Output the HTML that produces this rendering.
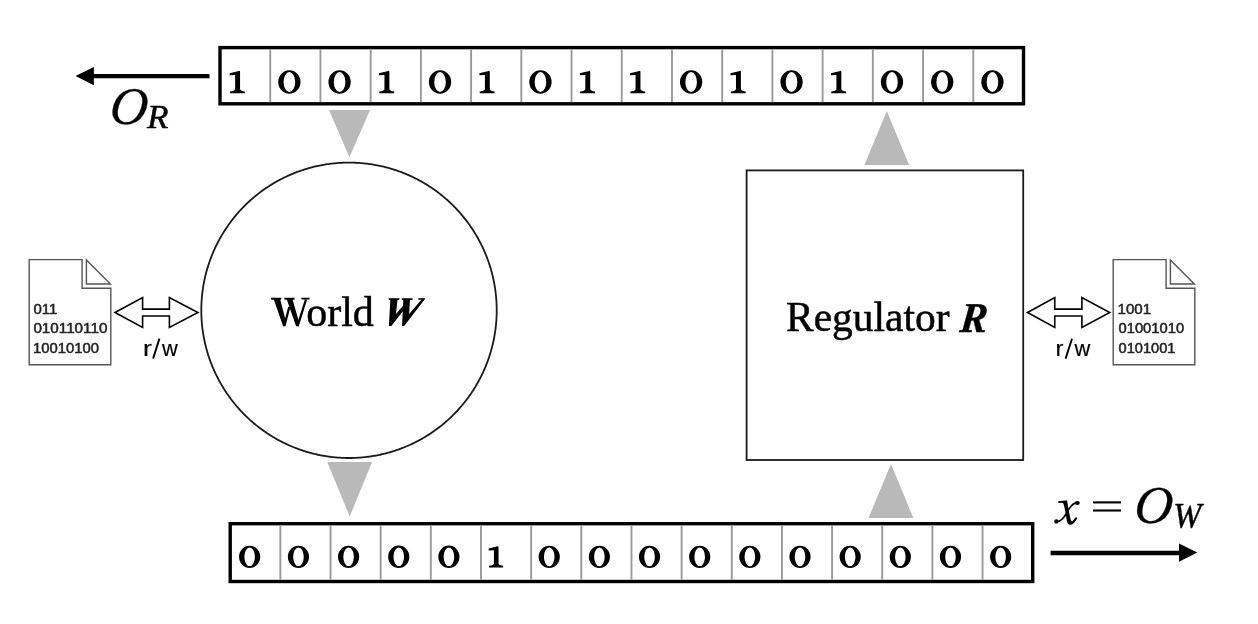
<!DOCTYPE html>
<html><head><meta charset="utf-8"><style>
html,body{margin:0;padding:0;background:#fff;}
body{width:1258px;height:624px;overflow:hidden;position:relative;}
svg{position:absolute;left:0;top:0;will-change:transform;}
.t{position:absolute;white-space:nowrap;line-height:1;}
.serif{font-family:"Liberation Serif",serif;}
.sans{font-family:"Liberation Sans",sans-serif;}
</style></head><body>
<svg width="1258" height="624" viewBox="0 0 1258 624">
<rect x="220.0" y="47.6" width="803.50" height="56.20" fill="#fff" stroke="#000" stroke-width="3.4"/>
<line x1="270.22" y1="49.30" x2="270.22" y2="102.10" stroke="#999" stroke-width="1.9"/>
<line x1="320.44" y1="49.30" x2="320.44" y2="102.10" stroke="#999" stroke-width="1.9"/>
<line x1="370.66" y1="49.30" x2="370.66" y2="102.10" stroke="#999" stroke-width="1.9"/>
<line x1="420.88" y1="49.30" x2="420.88" y2="102.10" stroke="#999" stroke-width="1.9"/>
<line x1="471.09" y1="49.30" x2="471.09" y2="102.10" stroke="#999" stroke-width="1.9"/>
<line x1="521.31" y1="49.30" x2="521.31" y2="102.10" stroke="#999" stroke-width="1.9"/>
<line x1="571.53" y1="49.30" x2="571.53" y2="102.10" stroke="#999" stroke-width="1.9"/>
<line x1="621.75" y1="49.30" x2="621.75" y2="102.10" stroke="#999" stroke-width="1.9"/>
<line x1="671.97" y1="49.30" x2="671.97" y2="102.10" stroke="#999" stroke-width="1.9"/>
<line x1="722.19" y1="49.30" x2="722.19" y2="102.10" stroke="#999" stroke-width="1.9"/>
<line x1="772.41" y1="49.30" x2="772.41" y2="102.10" stroke="#999" stroke-width="1.9"/>
<line x1="822.62" y1="49.30" x2="822.62" y2="102.10" stroke="#999" stroke-width="1.9"/>
<line x1="872.84" y1="49.30" x2="872.84" y2="102.10" stroke="#999" stroke-width="1.9"/>
<line x1="923.06" y1="49.30" x2="923.06" y2="102.10" stroke="#999" stroke-width="1.9"/>
<line x1="973.28" y1="49.30" x2="973.28" y2="102.10" stroke="#999" stroke-width="1.9"/>
<path transform="translate(229.65 70.70) scale(1.0)" d="M0.3 22.6 H15.2 V20.7 Q11.1 20.5 10.4 18.6 V1.1 Q10.3 0.0 9.3 0.2 L0 2.5 V4.6 L5.5 4.4 V18.6 Q4.8 20.5 0.3 20.7 Z"/>
<path fill-rule="evenodd" d="M278.22 82.00 a11.15 11.75 0 1 0 22.30 0 a11.15 11.75 0 1 0 -22.30 0 Z M283.57 82.00 a5.80 10.00 0 1 0 11.60 0 a5.80 10.00 0 1 0 -11.60 0 Z"/>
<path fill-rule="evenodd" d="M328.44 82.00 a11.15 11.75 0 1 0 22.30 0 a11.15 11.75 0 1 0 -22.30 0 Z M333.79 82.00 a5.80 10.00 0 1 0 11.60 0 a5.80 10.00 0 1 0 -11.60 0 Z"/>
<path transform="translate(378.96 70.70) scale(1.0)" d="M0.3 22.6 H15.2 V20.7 Q11.1 20.5 10.4 18.6 V1.1 Q10.3 0.0 9.3 0.2 L0 2.5 V4.6 L5.5 4.4 V18.6 Q4.8 20.5 0.3 20.7 Z"/>
<path fill-rule="evenodd" d="M428.88 82.00 a11.15 11.75 0 1 0 22.30 0 a11.15 11.75 0 1 0 -22.30 0 Z M434.22 82.00 a5.80 10.00 0 1 0 11.60 0 a5.80 10.00 0 1 0 -11.60 0 Z"/>
<path transform="translate(479.39 70.70) scale(1.0)" d="M0.3 22.6 H15.2 V20.7 Q11.1 20.5 10.4 18.6 V1.1 Q10.3 0.0 9.3 0.2 L0 2.5 V4.6 L5.5 4.4 V18.6 Q4.8 20.5 0.3 20.7 Z"/>
<path fill-rule="evenodd" d="M529.31 82.00 a11.15 11.75 0 1 0 22.30 0 a11.15 11.75 0 1 0 -22.30 0 Z M534.66 82.00 a5.80 10.00 0 1 0 11.60 0 a5.80 10.00 0 1 0 -11.60 0 Z"/>
<path transform="translate(579.83 70.70) scale(1.0)" d="M0.3 22.6 H15.2 V20.7 Q11.1 20.5 10.4 18.6 V1.1 Q10.3 0.0 9.3 0.2 L0 2.5 V4.6 L5.5 4.4 V18.6 Q4.8 20.5 0.3 20.7 Z"/>
<path transform="translate(630.05 70.70) scale(1.0)" d="M0.3 22.6 H15.2 V20.7 Q11.1 20.5 10.4 18.6 V1.1 Q10.3 0.0 9.3 0.2 L0 2.5 V4.6 L5.5 4.4 V18.6 Q4.8 20.5 0.3 20.7 Z"/>
<path fill-rule="evenodd" d="M679.97 82.00 a11.15 11.75 0 1 0 22.30 0 a11.15 11.75 0 1 0 -22.30 0 Z M685.32 82.00 a5.80 10.00 0 1 0 11.60 0 a5.80 10.00 0 1 0 -11.60 0 Z"/>
<path transform="translate(730.49 70.70) scale(1.0)" d="M0.3 22.6 H15.2 V20.7 Q11.1 20.5 10.4 18.6 V1.1 Q10.3 0.0 9.3 0.2 L0 2.5 V4.6 L5.5 4.4 V18.6 Q4.8 20.5 0.3 20.7 Z"/>
<path fill-rule="evenodd" d="M780.41 82.00 a11.15 11.75 0 1 0 22.30 0 a11.15 11.75 0 1 0 -22.30 0 Z M785.76 82.00 a5.80 10.00 0 1 0 11.60 0 a5.80 10.00 0 1 0 -11.60 0 Z"/>
<path transform="translate(830.92 70.70) scale(1.0)" d="M0.3 22.6 H15.2 V20.7 Q11.1 20.5 10.4 18.6 V1.1 Q10.3 0.0 9.3 0.2 L0 2.5 V4.6 L5.5 4.4 V18.6 Q4.8 20.5 0.3 20.7 Z"/>
<path fill-rule="evenodd" d="M880.84 82.00 a11.15 11.75 0 1 0 22.30 0 a11.15 11.75 0 1 0 -22.30 0 Z M886.19 82.00 a5.80 10.00 0 1 0 11.60 0 a5.80 10.00 0 1 0 -11.60 0 Z"/>
<path fill-rule="evenodd" d="M931.06 82.00 a11.15 11.75 0 1 0 22.30 0 a11.15 11.75 0 1 0 -22.30 0 Z M936.41 82.00 a5.80 10.00 0 1 0 11.60 0 a5.80 10.00 0 1 0 -11.60 0 Z"/>
<path fill-rule="evenodd" d="M981.28 82.00 a11.15 11.75 0 1 0 22.30 0 a11.15 11.75 0 1 0 -22.30 0 Z M986.63 82.00 a5.80 10.00 0 1 0 11.60 0 a5.80 10.00 0 1 0 -11.60 0 Z"/>
<rect x="230.2" y="523.7" width="802.50" height="57.80" fill="#fff" stroke="#000" stroke-width="3.4"/>
<line x1="280.36" y1="525.40" x2="280.36" y2="579.80" stroke="#999" stroke-width="1.9"/>
<line x1="330.51" y1="525.40" x2="330.51" y2="579.80" stroke="#999" stroke-width="1.9"/>
<line x1="380.67" y1="525.40" x2="380.67" y2="579.80" stroke="#999" stroke-width="1.9"/>
<line x1="430.82" y1="525.40" x2="430.82" y2="579.80" stroke="#999" stroke-width="1.9"/>
<line x1="480.98" y1="525.40" x2="480.98" y2="579.80" stroke="#999" stroke-width="1.9"/>
<line x1="531.14" y1="525.40" x2="531.14" y2="579.80" stroke="#999" stroke-width="1.9"/>
<line x1="581.29" y1="525.40" x2="581.29" y2="579.80" stroke="#999" stroke-width="1.9"/>
<line x1="631.45" y1="525.40" x2="631.45" y2="579.80" stroke="#999" stroke-width="1.9"/>
<line x1="681.61" y1="525.40" x2="681.61" y2="579.80" stroke="#999" stroke-width="1.9"/>
<line x1="731.76" y1="525.40" x2="731.76" y2="579.80" stroke="#999" stroke-width="1.9"/>
<line x1="781.92" y1="525.40" x2="781.92" y2="579.80" stroke="#999" stroke-width="1.9"/>
<line x1="832.08" y1="525.40" x2="832.08" y2="579.80" stroke="#999" stroke-width="1.9"/>
<line x1="882.23" y1="525.40" x2="882.23" y2="579.80" stroke="#999" stroke-width="1.9"/>
<line x1="932.39" y1="525.40" x2="932.39" y2="579.80" stroke="#999" stroke-width="1.9"/>
<line x1="982.54" y1="525.40" x2="982.54" y2="579.80" stroke="#999" stroke-width="1.9"/>
<path fill-rule="evenodd" d="M239.05 556.80 a10.59 11.16 0 1 0 21.18 0 a10.59 11.16 0 1 0 -21.18 0 Z M244.34 556.80 a5.30 9.30 0 1 0 10.60 0 a5.30 9.30 0 1 0 -10.60 0 Z"/>
<path fill-rule="evenodd" d="M287.86 556.80 a10.59 11.16 0 1 0 21.18 0 a10.59 11.16 0 1 0 -21.18 0 Z M293.15 556.80 a5.30 9.30 0 1 0 10.60 0 a5.30 9.30 0 1 0 -10.60 0 Z"/>
<path fill-rule="evenodd" d="M338.01 556.80 a10.59 11.16 0 1 0 21.18 0 a10.59 11.16 0 1 0 -21.18 0 Z M343.30 556.80 a5.30 9.30 0 1 0 10.60 0 a5.30 9.30 0 1 0 -10.60 0 Z"/>
<path fill-rule="evenodd" d="M388.17 556.80 a10.59 11.16 0 1 0 21.18 0 a10.59 11.16 0 1 0 -21.18 0 Z M393.46 556.80 a5.30 9.30 0 1 0 10.60 0 a5.30 9.30 0 1 0 -10.60 0 Z"/>
<path fill-rule="evenodd" d="M438.32 556.80 a10.59 11.16 0 1 0 21.18 0 a10.59 11.16 0 1 0 -21.18 0 Z M443.62 556.80 a5.30 9.30 0 1 0 10.60 0 a5.30 9.30 0 1 0 -10.60 0 Z"/>
<path transform="translate(488.68 546.06) scale(0.95)" d="M0.3 22.6 H15.2 V20.7 Q11.1 20.5 10.4 18.6 V1.1 Q10.3 0.0 9.3 0.2 L0 2.5 V4.6 L5.5 4.4 V18.6 Q4.8 20.5 0.3 20.7 Z"/>
<path fill-rule="evenodd" d="M538.64 556.80 a10.59 11.16 0 1 0 21.18 0 a10.59 11.16 0 1 0 -21.18 0 Z M543.93 556.80 a5.30 9.30 0 1 0 10.60 0 a5.30 9.30 0 1 0 -10.60 0 Z"/>
<path fill-rule="evenodd" d="M588.79 556.80 a10.59 11.16 0 1 0 21.18 0 a10.59 11.16 0 1 0 -21.18 0 Z M594.09 556.80 a5.30 9.30 0 1 0 10.60 0 a5.30 9.30 0 1 0 -10.60 0 Z"/>
<path fill-rule="evenodd" d="M638.95 556.80 a10.59 11.16 0 1 0 21.18 0 a10.59 11.16 0 1 0 -21.18 0 Z M644.24 556.80 a5.30 9.30 0 1 0 10.60 0 a5.30 9.30 0 1 0 -10.60 0 Z"/>
<path fill-rule="evenodd" d="M689.11 556.80 a10.59 11.16 0 1 0 21.18 0 a10.59 11.16 0 1 0 -21.18 0 Z M694.40 556.80 a5.30 9.30 0 1 0 10.60 0 a5.30 9.30 0 1 0 -10.60 0 Z"/>
<path fill-rule="evenodd" d="M739.26 556.80 a10.59 11.16 0 1 0 21.18 0 a10.59 11.16 0 1 0 -21.18 0 Z M744.56 556.80 a5.30 9.30 0 1 0 10.60 0 a5.30 9.30 0 1 0 -10.60 0 Z"/>
<path fill-rule="evenodd" d="M789.42 556.80 a10.59 11.16 0 1 0 21.18 0 a10.59 11.16 0 1 0 -21.18 0 Z M794.71 556.80 a5.30 9.30 0 1 0 10.60 0 a5.30 9.30 0 1 0 -10.60 0 Z"/>
<path fill-rule="evenodd" d="M839.58 556.80 a10.59 11.16 0 1 0 21.18 0 a10.59 11.16 0 1 0 -21.18 0 Z M844.87 556.80 a5.30 9.30 0 1 0 10.60 0 a5.30 9.30 0 1 0 -10.60 0 Z"/>
<path fill-rule="evenodd" d="M889.73 556.80 a10.59 11.16 0 1 0 21.18 0 a10.59 11.16 0 1 0 -21.18 0 Z M895.02 556.80 a5.30 9.30 0 1 0 10.60 0 a5.30 9.30 0 1 0 -10.60 0 Z"/>
<path fill-rule="evenodd" d="M939.89 556.80 a10.59 11.16 0 1 0 21.18 0 a10.59 11.16 0 1 0 -21.18 0 Z M945.18 556.80 a5.30 9.30 0 1 0 10.60 0 a5.30 9.30 0 1 0 -10.60 0 Z"/>
<path fill-rule="evenodd" d="M990.04 556.80 a10.59 11.16 0 1 0 21.18 0 a10.59 11.16 0 1 0 -21.18 0 Z M995.34 556.80 a5.30 9.30 0 1 0 10.60 0 a5.30 9.30 0 1 0 -10.60 0 Z"/>
<polygon fill="#b9b9b9" points="329,110.1 370.1,110.1 349.4,157.2"/>
<polygon fill="#b9b9b9" points="327.2,462 372.1,462 349.7,516.5"/>
<polygon fill="#b9b9b9" points="886.8,110.9 909.2,164.9 864.4,164.9"/>
<polygon fill="#b9b9b9" points="891,464 913.4,518.1 868.5,518.1"/>
<polygon points="496.70,310.30 496.69,311.59 496.68,312.88 496.65,314.17 496.61,315.45 496.56,316.74 496.50,318.03 496.42,319.32 496.34,320.60 496.24,321.89 496.14,323.17 496.02,324.46 495.89,325.74 495.75,327.02 495.60,328.30 495.44,329.58 495.26,330.86 495.08,332.13 494.88,333.41 494.67,334.68 494.46,335.95 494.23,337.22 493.99,338.48 493.73,339.75 493.47,341.01 493.20,342.27 492.91,343.53 492.62,344.78 492.31,346.03 492.00,347.28 491.67,348.53 491.33,349.77 490.98,351.01 490.62,352.25 490.25,353.48 489.86,354.71 489.47,355.94 489.07,357.17 488.65,358.39 488.23,359.60 487.79,360.82 487.35,362.03 486.89,363.23 486.42,364.43 485.95,365.63 485.46,366.82 484.96,368.01 484.45,369.20 483.93,370.38 483.40,371.55 482.86,372.72 482.31,373.89 481.75,375.05 481.18,376.20 480.60,377.35 480.01,378.50 479.41,379.64 478.80,380.78 478.18,381.91 477.55,383.03 476.91,384.15 476.26,385.26 475.60,386.37 474.93,387.47 474.26,388.57 473.57,389.66 472.87,390.74 472.16,391.82 471.45,392.89 470.72,393.96 469.99,395.02 469.24,396.07 468.49,397.12 467.73,398.16 466.96,399.19 466.18,400.21 465.39,401.23 464.59,402.25 463.78,403.25 462.97,404.25 462.14,405.24 461.31,406.22 460.47,407.20 459.62,408.17 458.76,409.13 457.90,410.08 457.02,411.03 456.14,411.97 455.25,412.90 454.35,413.82 453.44,414.74 452.52,415.65 451.60,416.55 450.67,417.44 449.73,418.32 448.78,419.20 447.83,420.06 446.87,420.92 445.90,421.77 444.92,422.61 443.94,423.44 442.95,424.27 441.95,425.08 440.95,425.89 439.93,426.69 438.91,427.48 437.89,428.26 436.86,429.03 435.82,429.79 434.77,430.54 433.72,431.29 432.66,432.02 431.59,432.75 430.52,433.46 429.44,434.17 428.36,434.87 427.27,435.56 426.17,436.23 425.07,436.90 423.96,437.56 422.85,438.21 421.73,438.85 420.61,439.48 419.48,440.10 418.34,440.71 417.20,441.31 416.05,441.90 414.90,442.48 413.75,443.05 412.59,443.61 411.42,444.16 410.25,444.70 409.08,445.23 407.90,445.75 406.71,446.26 405.52,446.76 404.33,447.25 403.13,447.72 401.93,448.19 400.73,448.65 399.52,449.09 398.30,449.53 397.09,449.95 395.87,450.37 394.64,450.77 393.41,451.16 392.18,451.55 390.95,451.92 389.71,452.28 388.47,452.63 387.23,452.97 385.98,453.30 384.73,453.61 383.48,453.92 382.23,454.21 380.97,454.50 379.71,454.77 378.45,455.03 377.18,455.29 375.92,455.53 374.65,455.76 373.38,455.97 372.11,456.18 370.83,456.38 369.56,456.56 368.28,456.74 367.00,456.90 365.72,457.05 364.44,457.19 363.16,457.32 361.87,457.44 360.59,457.54 359.30,457.64 358.02,457.72 356.73,457.80 355.44,457.86 354.15,457.91 352.87,457.95 351.58,457.98 350.29,457.99 349.00,458.00 347.71,457.99 346.42,457.98 345.13,457.95 343.85,457.91 342.56,457.86 341.27,457.80 339.98,457.72 338.70,457.64 337.41,457.54 336.13,457.44 334.84,457.32 333.56,457.19 332.28,457.05 331.00,456.90 329.72,456.74 328.44,456.56 327.17,456.38 325.89,456.18 324.62,455.97 323.35,455.76 322.08,455.53 320.82,455.29 319.55,455.03 318.29,454.77 317.03,454.50 315.77,454.21 314.52,453.92 313.27,453.61 312.02,453.30 310.77,452.97 309.53,452.63 308.29,452.28 307.05,451.92 305.82,451.55 304.59,451.16 303.36,450.77 302.13,450.37 300.91,449.95 299.70,449.53 298.48,449.09 297.27,448.65 296.07,448.19 294.87,447.72 293.67,447.25 292.48,446.76 291.29,446.26 290.10,445.75 288.92,445.23 287.75,444.70 286.58,444.16 285.41,443.61 284.25,443.05 283.10,442.48 281.95,441.90 280.80,441.31 279.66,440.71 278.52,440.10 277.39,439.48 276.27,438.85 275.15,438.21 274.04,437.56 272.93,436.90 271.83,436.23 270.73,435.56 269.64,434.87 268.56,434.17 267.48,433.46 266.41,432.75 265.34,432.02 264.28,431.29 263.23,430.54 262.18,429.79 261.14,429.03 260.11,428.26 259.09,427.48 258.07,426.69 257.05,425.89 256.05,425.08 255.05,424.27 254.06,423.44 253.08,422.61 252.10,421.77 251.13,420.92 250.17,420.06 249.22,419.20 248.27,418.32 247.33,417.44 246.40,416.55 245.48,415.65 244.56,414.74 243.65,413.82 242.75,412.90 241.86,411.97 240.98,411.03 240.10,410.08 239.24,409.13 238.38,408.17 237.53,407.20 236.69,406.22 235.86,405.24 235.03,404.25 234.22,403.25 233.41,402.25 232.61,401.23 231.82,400.21 231.04,399.19 230.27,398.16 229.51,397.12 228.76,396.07 228.01,395.02 227.28,393.96 226.55,392.89 225.84,391.82 225.13,390.74 224.43,389.66 223.74,388.57 223.07,387.47 222.40,386.37 221.74,385.26 221.09,384.15 220.45,383.03 219.82,381.91 219.20,380.78 218.59,379.64 217.99,378.50 217.40,377.35 216.82,376.20 216.25,375.05 215.69,373.89 215.14,372.72 214.60,371.55 214.07,370.38 213.55,369.20 213.04,368.01 212.54,366.82 212.05,365.63 211.58,364.43 211.11,363.23 210.65,362.03 210.21,360.82 209.77,359.60 209.35,358.39 208.93,357.17 208.53,355.94 208.14,354.71 207.75,353.48 207.38,352.25 207.02,351.01 206.67,349.77 206.33,348.53 206.00,347.28 205.69,346.03 205.38,344.78 205.09,343.53 204.80,342.27 204.53,341.01 204.27,339.75 204.01,338.48 203.77,337.22 203.54,335.95 203.33,334.68 203.12,333.41 202.92,332.13 202.74,330.86 202.56,329.58 202.40,328.30 202.25,327.02 202.11,325.74 201.98,324.46 201.86,323.17 201.76,321.89 201.66,320.60 201.58,319.32 201.50,318.03 201.44,316.74 201.39,315.45 201.35,314.17 201.32,312.88 201.31,311.59 201.30,310.30 201.31,309.01 201.32,307.72 201.35,306.43 201.39,305.15 201.44,303.86 201.50,302.57 201.58,301.28 201.66,300.00 201.76,298.71 201.86,297.43 201.98,296.14 202.11,294.86 202.25,293.58 202.40,292.30 202.56,291.02 202.74,289.74 202.92,288.47 203.12,287.19 203.33,285.92 203.54,284.65 203.77,283.38 204.01,282.12 204.27,280.85 204.53,279.59 204.80,278.33 205.09,277.07 205.38,275.82 205.69,274.57 206.00,273.32 206.33,272.07 206.67,270.83 207.02,269.59 207.38,268.35 207.75,267.12 208.14,265.89 208.53,264.66 208.93,263.43 209.35,262.21 209.77,261.00 210.21,259.78 210.65,258.57 211.11,257.37 211.58,256.17 212.05,254.97 212.54,253.78 213.04,252.59 213.55,251.40 214.07,250.22 214.60,249.05 215.14,247.88 215.69,246.71 216.25,245.55 216.82,244.40 217.40,243.25 217.99,242.10 218.59,240.96 219.20,239.82 219.82,238.69 220.45,237.57 221.09,236.45 221.74,235.34 222.40,234.23 223.07,233.13 223.74,232.03 224.43,230.94 225.13,229.86 225.84,228.78 226.55,227.71 227.28,226.64 228.01,225.58 228.76,224.53 229.51,223.48 230.27,222.44 231.04,221.41 231.82,220.39 232.61,219.37 233.41,218.35 234.22,217.35 235.03,216.35 235.86,215.36 236.69,214.38 237.53,213.40 238.38,212.43 239.24,211.47 240.10,210.52 240.98,209.57 241.86,208.63 242.75,207.70 243.65,206.78 244.56,205.86 245.48,204.95 246.40,204.05 247.33,203.16 248.27,202.28 249.22,201.40 250.17,200.54 251.13,199.68 252.10,198.83 253.08,197.99 254.06,197.16 255.05,196.33 256.05,195.52 257.05,194.71 258.07,193.91 259.09,193.12 260.11,192.34 261.14,191.57 262.18,190.81 263.23,190.06 264.28,189.31 265.34,188.58 266.41,187.85 267.48,187.14 268.56,186.43 269.64,185.73 270.73,185.04 271.83,184.37 272.93,183.70 274.04,183.04 275.15,182.39 276.27,181.75 277.39,181.12 278.52,180.50 279.66,179.89 280.80,179.29 281.95,178.70 283.10,178.12 284.25,177.55 285.41,176.99 286.58,176.44 287.75,175.90 288.92,175.37 290.10,174.85 291.29,174.34 292.48,173.84 293.67,173.35 294.87,172.88 296.07,172.41 297.27,171.95 298.48,171.51 299.70,171.07 300.91,170.65 302.13,170.23 303.36,169.83 304.59,169.44 305.82,169.05 307.05,168.68 308.29,168.32 309.53,167.97 310.77,167.63 312.02,167.30 313.27,166.99 314.52,166.68 315.77,166.39 317.03,166.10 318.29,165.83 319.55,165.57 320.82,165.31 322.08,165.07 323.35,164.84 324.62,164.63 325.89,164.42 327.17,164.22 328.44,164.04 329.72,163.86 331.00,163.70 332.28,163.55 333.56,163.41 334.84,163.28 336.13,163.16 337.41,163.06 338.70,162.96 339.98,162.88 341.27,162.80 342.56,162.74 343.85,162.69 345.13,162.65 346.42,162.62 347.71,162.61 349.00,162.60 350.29,162.61 351.58,162.62 352.87,162.65 354.15,162.69 355.44,162.74 356.73,162.80 358.02,162.88 359.30,162.96 360.59,163.06 361.87,163.16 363.16,163.28 364.44,163.41 365.72,163.55 367.00,163.70 368.28,163.86 369.56,164.04 370.83,164.22 372.11,164.42 373.38,164.63 374.65,164.84 375.92,165.07 377.18,165.31 378.45,165.57 379.71,165.83 380.97,166.10 382.23,166.39 383.48,166.68 384.73,166.99 385.98,167.30 387.23,167.63 388.47,167.97 389.71,168.32 390.95,168.68 392.18,169.05 393.41,169.44 394.64,169.83 395.87,170.23 397.09,170.65 398.30,171.07 399.52,171.51 400.73,171.95 401.93,172.41 403.13,172.88 404.33,173.35 405.52,173.84 406.71,174.34 407.90,174.85 409.08,175.37 410.25,175.90 411.42,176.44 412.59,176.99 413.75,177.55 414.90,178.12 416.05,178.70 417.20,179.29 418.34,179.89 419.48,180.50 420.61,181.12 421.73,181.75 422.85,182.39 423.96,183.04 425.07,183.70 426.17,184.37 427.27,185.04 428.36,185.73 429.44,186.43 430.52,187.14 431.59,187.85 432.66,188.58 433.72,189.31 434.77,190.06 435.82,190.81 436.86,191.57 437.89,192.34 438.91,193.12 439.93,193.91 440.95,194.71 441.95,195.52 442.95,196.33 443.94,197.16 444.92,197.99 445.90,198.83 446.87,199.68 447.83,200.54 448.78,201.40 449.73,202.28 450.67,203.16 451.60,204.05 452.52,204.95 453.44,205.86 454.35,206.78 455.25,207.70 456.14,208.63 457.02,209.57 457.90,210.52 458.76,211.47 459.62,212.43 460.47,213.40 461.31,214.38 462.14,215.36 462.97,216.35 463.78,217.35 464.59,218.35 465.39,219.37 466.18,220.39 466.96,221.41 467.73,222.44 468.49,223.48 469.24,224.53 469.99,225.58 470.72,226.64 471.45,227.71 472.16,228.78 472.87,229.86 473.57,230.94 474.26,232.03 474.93,233.13 475.60,234.23 476.26,235.34 476.91,236.45 477.55,237.57 478.18,238.69 478.80,239.82 479.41,240.96 480.01,242.10 480.60,243.25 481.18,244.40 481.75,245.55 482.31,246.71 482.86,247.88 483.40,249.05 483.93,250.22 484.45,251.40 484.96,252.59 485.46,253.78 485.95,254.97 486.42,256.17 486.89,257.37 487.35,258.57 487.79,259.78 488.23,261.00 488.65,262.21 489.07,263.43 489.47,264.66 489.86,265.89 490.25,267.12 490.62,268.35 490.98,269.59 491.33,270.83 491.67,272.07 492.00,273.32 492.31,274.57 492.62,275.82 492.91,277.07 493.20,278.33 493.47,279.59 493.73,280.85 493.99,282.12 494.23,283.38 494.46,284.65 494.67,285.92 494.88,287.19 495.08,288.47 495.26,289.74 495.44,291.02 495.60,292.30 495.75,293.58 495.89,294.86 496.02,296.14 496.14,297.43 496.24,298.71 496.34,300.00 496.42,301.28 496.50,302.57 496.56,303.86 496.61,305.15 496.65,306.43 496.68,307.72 496.69,309.01" fill="none" stroke="#1a1a1a" stroke-width="1.8"/>
<rect x="746.6" y="170.4" width="276.6" height="289.6" fill="none" stroke="#1a1a1a" stroke-width="1.8"/>
<line x1="92" y1="76.1" x2="209.5" y2="76.1" stroke="#000" stroke-width="4.2"/>
<polygon points="75.5,76.1 93.9,66.9 93.9,85.3" fill="#000"/>
<line x1="1050.6" y1="553" x2="1181" y2="553" stroke="#000" stroke-width="4.5"/>
<polygon points="1179,543.5 1197.3,552.6 1179,561.8" fill="#000"/>
<polygon fill="#fff" stroke="#000" stroke-width="1.6" stroke-linejoin="miter" points="115,312.5 142.6,297.5 142.6,309.1 169.4,309.1 169.4,297.5 197.9,312.5 169.4,327.5 169.4,316 142.6,316 142.6,327.5"/>
<polygon fill="#fff" stroke="#000" stroke-width="1.6" stroke-linejoin="miter" points="1027.5,312.5 1054.75,297.5 1054.75,309.1 1081.9,309.1 1081.9,297.5 1109.75,312.5 1081.9,327.5 1081.9,316 1054.75,316 1054.75,327.5"/>
<path fill="#fff" stroke="#555" stroke-width="1.4" d="M29.2 259.6 H82.1 V288.3 H110.8 V364.8 H29.2 Z"/><path fill="#fff" stroke="#555" stroke-width="1.4" d="M86.4 260 V284 H110.4 Z"/>
<path fill="#fff" stroke="#555" stroke-width="1.4" d="M1113.2 259.6 H1166.1 V288.3 H1194.8 V364.8 H1113.2 Z"/><path fill="#fff" stroke="#555" stroke-width="1.4" d="M1170.4 260 V284 H1194.4 Z"/>
<text x="306.20" y="325.80" font-family="Liberation Serif" font-size="41.90" font-weight="normal" font-style="normal" fill="#000" stroke="#000" stroke-width="0.5" stroke-linejoin="round" textLength="67.68" lengthAdjust="spacingAndGlyphs">orld</text>
<text x="786.00" y="331.35" font-family="Liberation Serif" font-size="41.50" font-weight="normal" font-style="normal" fill="#000" stroke="#000" stroke-width="0.5" stroke-linejoin="round" textLength="163.46" lengthAdjust="spacingAndGlyphs">Regulator</text>
<text transform="translate(974.24 318.01) skewX(-6) translate(-974.24 -318.01)" x="960.60" y="332.00" font-family="Liberation Serif" font-size="42.40" font-weight="bold" font-style="italic" fill="#000" stroke="#000" stroke-width="0.4" stroke-linejoin="round" textLength="27.28" lengthAdjust="spacingAndGlyphs">R</text>
<text transform="translate(129.45 106.14) skewX(-5) translate(-129.45 -106.14)" x="110.40" y="123.60" font-family="Liberation Serif" font-size="52.90" font-weight="normal" font-style="italic" fill="#000" stroke="#000" stroke-width="0.25" stroke-linejoin="round" textLength="38.11" lengthAdjust="spacingAndGlyphs">O</text>
<text x="147.10" y="127.95" font-family="Liberation Serif" font-size="34.00" font-weight="normal" font-style="italic" fill="#000" stroke="#000" stroke-width="0.5" stroke-linejoin="round" textLength="21.48" lengthAdjust="spacingAndGlyphs">R</text>
<text transform="translate(1154.13 505.78) skewX(-5) translate(-1154.13 -505.78)" x="1134.90" y="523.40" font-family="Liberation Serif" font-size="53.40" font-weight="normal" font-style="italic" fill="#000" stroke="#000" stroke-width="0.25" stroke-linejoin="round" textLength="38.47" lengthAdjust="spacingAndGlyphs">O</text>
<text x="1173.20" y="527.90" font-family="Liberation Serif" font-size="36.50" font-weight="normal" font-style="italic" fill="#000" stroke="#000" stroke-width="0.5" stroke-linejoin="round" textLength="28.11" lengthAdjust="spacingAndGlyphs">W</text>
<text x="33.40" y="313.70" font-family="Liberation Sans" font-size="14.00" font-weight="normal" font-style="normal" fill="#222" stroke="#222" stroke-width="0.5" stroke-linejoin="round" textLength="23.83" lengthAdjust="spacingAndGlyphs">011</text>
<text x="33.40" y="333.00" font-family="Liberation Sans" font-size="14.00" font-weight="normal" font-style="normal" fill="#222" stroke="#222" stroke-width="0.5" stroke-linejoin="round" textLength="74.00" lengthAdjust="spacingAndGlyphs">010110110</text>
<text x="32.90" y="352.60" font-family="Liberation Sans" font-size="14.00" font-weight="normal" font-style="normal" fill="#222" stroke="#222" stroke-width="0.5" stroke-linejoin="round" textLength="66.00" lengthAdjust="spacingAndGlyphs">10010100</text>
<text x="1117.60" y="313.70" font-family="Liberation Sans" font-size="14.00" font-weight="normal" font-style="normal" fill="#222" stroke="#222" stroke-width="0.5" stroke-linejoin="round" textLength="33.56" lengthAdjust="spacingAndGlyphs">1001</text>
<text x="1118.50" y="333.00" font-family="Liberation Sans" font-size="14.00" font-weight="normal" font-style="normal" fill="#222" stroke="#222" stroke-width="0.5" stroke-linejoin="round" textLength="65.60" lengthAdjust="spacingAndGlyphs">01001010</text>
<text x="1118.50" y="352.60" font-family="Liberation Sans" font-size="14.00" font-weight="normal" font-style="normal" fill="#222" stroke="#222" stroke-width="0.5" stroke-linejoin="round" textLength="57.02" lengthAdjust="spacingAndGlyphs">0101001</text>
<text x="143.10" y="355.60" font-family="Liberation Sans" font-size="22.30" font-weight="normal" font-style="normal" fill="#000" stroke="#000" stroke-width="0.2" stroke-linejoin="round" textLength="8.84" lengthAdjust="spacingAndGlyphs">r</text>
<text x="161.90" y="355.60" font-family="Liberation Sans" font-size="22.30" font-weight="normal" font-style="normal" fill="#000" stroke="#000" stroke-width="0.2" stroke-linejoin="round" textLength="15.81" lengthAdjust="spacingAndGlyphs">w</text>
<text x="1055.60" y="355.70" font-family="Liberation Sans" font-size="22.30" font-weight="normal" font-style="normal" fill="#000" stroke="#000" stroke-width="0.2" stroke-linejoin="round" textLength="7.94" lengthAdjust="spacingAndGlyphs">r</text>
<text x="1074.40" y="355.70" font-family="Liberation Sans" font-size="22.30" font-weight="normal" font-style="normal" fill="#000" stroke="#000" stroke-width="0.2" stroke-linejoin="round" textLength="15.81" lengthAdjust="spacingAndGlyphs">w</text>
<path fill="#000" d="M271.02 297.75 L281.40 297.75 L281.11 299.77 L271.31 299.77ZM284.28 297.75 L294.66 297.75 L294.37 299.77 L284.57 299.77ZM301.30 297.75 L309.66 297.75 L309.37 299.48 L301.58 299.48ZM273.90 299.77 L280.25 299.77 L285.72 320.53 L284.69 326.30 L283.13 326.30ZM283.16 326.01 L288.18 306.69 L290.42 307.26 L285.40 326.58ZM286.88 299.77 L292.64 299.77 L298.53 320.53 L298.12 326.30 L296.10 326.30ZM296.45 325.95 L304.81 299.42 L307.00 300.11 L298.64 326.64Z"/>
<path fill="#000" d="M388.61 298.15 L399.46 298.15 L399.11 300.00 L388.90 300.00ZM401.59 298.15 L412.72 298.15 L412.37 300.00 L401.88 300.00ZM418.14 298.15 L425.06 298.15 L424.66 299.65 L418.49 299.65ZM390.34 299.77 L397.55 299.77 L395.94 313.90 L391.38 326.01 L388.90 326.01ZM395.94 313.90 L403.03 305.82 L403.38 310.44 L391.38 326.01ZM403.32 299.77 L409.95 299.77 L409.14 313.90 L404.18 326.01 L402.05 326.01ZM409.14 313.90 L421.37 299.77 L424.37 299.77 L404.18 326.01Z"/>
<path fill="#000" d="M1058.2 501.3 L1063 500.7 Q1065.5 500.3 1067.1 500.5 C1068.2 508 1069.6 515.5 1070.9 520.2 Q1071.6 522.0 1072.6 521.0 L1076.0 516.9 L1077.4 518.2 L1074.0 522.9 Q1071.8 525.0 1069.6 524.8 Q1067.6 524.6 1067.0 521.5 C1065.8 515 1064.8 507 1063.2 503.3 Q1062.4 502.3 1058.3 503.1 Z"/>
<path fill="none" stroke="#000" stroke-width="1.8" d="M1077.3 502.6 C1073 502.6 1069.5 507.5 1067 512.4 C1064.5 517 1061 521.8 1056.6 521.7"/>
<ellipse cx="1077.3" cy="502.9" rx="2.5" ry="2.0"/><circle cx="1056.4" cy="521.4" r="2.2"/>
<line x1="1093" y1="502.4" x2="1121" y2="502.4" stroke="#000" stroke-width="2.1"/>
<line x1="1093" y1="510.5" x2="1121" y2="510.5" stroke="#000" stroke-width="2.1"/>
<line x1="159.4" y1="338.6" x2="153.1" y2="358.6" stroke="#000" stroke-width="1.9"/>
<line x1="1072.0" y1="338.8" x2="1065.6" y2="358.6" stroke="#000" stroke-width="1.9"/>
</svg>
</body></html>
